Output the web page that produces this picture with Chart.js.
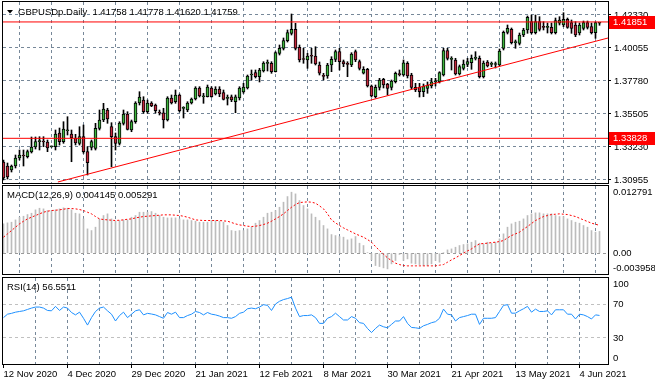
<!DOCTYPE html>
<html>
<head>
<meta charset="utf-8">
<script src="https://cdn.jsdelivr.net/npm/chart.js@4.4.1/dist/chart.umd.min.js"></script>
<style>
  html, body { margin: 0; padding: 0; background: #fff; }
  #wrap { position: relative; width: 655px; height: 386px; overflow: hidden; background: #fff; }
  canvas { position: absolute; left: 0; }
</style>
</head>
<body>
<div id="wrap">
  <canvas id="priceChart" width="655" height="184" style="top:0"></canvas>
  <canvas id="macdChart" width="655" height="91" style="top:184px"></canvas>
  <canvas id="rsiChart" width="655" height="111" style="top:275px"></canvas>
</div>
<script>
// ---- data ----
const dateLabels = ['12 Nov 2020', '4 Dec 2020', '29 Dec 2020', '21 Jan 2021', '12 Feb 2021',
                    '8 Mar 2021', '30 Mar 2021', '21 Apr 2021', '13 May 2021', '4 Jun 2021'];
const priceTicks = [1.30955, 1.33230, 1.35505, 1.37780, 1.40055, 1.42330];
const levels = [1.41851, 1.33828];
const trendLine = [{x: 13.6, y: 1.30817}, {x: 151.125, y: 1.40744}];

const open = [
  1.32195,1.31920,1.31644,1.31920,1.32471,1.32678,1.32561,1.32885,1.33230,1.33595,
  1.33595,1.33574,1.33250,1.33250,1.34195,1.33595,1.34353,1.34126,1.33850,1.33485,
  1.33940,1.32906,1.33209,1.33140,1.34519,1.35091,1.35780,1.34629,1.33940,1.33485,
  1.34863,1.35505,1.34402,1.34974,1.36263,1.36470,1.35663,1.36263,1.36125,1.35594,
  1.35594,1.35091,1.36608,1.36353,1.36815,1.35898,1.35780,1.36263,1.36539,1.37297,
  1.36697,1.36697,1.37297,1.36883,1.37228,1.36973,1.36587,1.36697,1.36353,1.36608,
  1.37021,1.37297,1.38193,1.38352,1.38076,1.38469,1.39000,1.39000,1.38421,1.39689,
  1.40034,1.40558,1.41068,1.41344,1.40103,1.39276,1.39227,1.39503,1.39503,1.38883,
  1.38124,1.38124,1.38883,1.39276,1.39800,1.39110,1.38952,1.38883,1.39800,1.39110,
  1.38311,1.38586,1.37435,1.36697,1.37345,1.37897,1.37573,1.37345,1.37731,1.38262,
  1.38193,1.39000,1.38193,1.37345,1.37345,1.37042,1.37276,1.37435,1.37731,1.37731,
  1.38193,1.39869,1.39276,1.39227,1.38262,1.38655,1.38931,1.39041,1.39345,1.39345,
  1.38076,1.39090,1.38931,1.38917,1.38883,1.40034,1.41137,1.41344,1.40420,1.40379,
  1.40951,1.41296,1.41868,1.41110,1.41868,1.41523,1.41482,1.41482,1.41110,1.41758,
  1.41640,1.42033,1.41799,1.41640,1.41089,1.41413,1.41799,1.41523,1.41110,1.41758
];
const high = [
  1.32333,1.32126,1.31989,1.32678,1.33023,1.33023,1.33023,1.33919,1.33919,1.33940,
  1.33940,1.33712,1.33298,1.34402,1.34539,1.34974,1.35319,1.34402,1.34105,1.34629,
  1.34746,1.33250,1.33712,1.34863,1.35780,1.36242,1.35898,1.34905,1.34195,1.34974,
  1.35780,1.35663,1.35091,1.36353,1.37042,1.36697,1.36470,1.36353,1.36194,1.35780,
  1.35898,1.36697,1.36815,1.37159,1.36883,1.36008,1.36353,1.36608,1.37387,1.37387,
  1.36932,1.37504,1.37387,1.37387,1.37387,1.37159,1.36815,1.36815,1.36815,1.37387,
  1.37621,1.38193,1.38538,1.38538,1.38655,1.39110,1.39227,1.39110,1.39800,1.40262,
  1.40744,1.41296,1.42399,1.41758,1.40262,1.40034,1.39689,1.40034,1.40144,1.39090,
  1.38311,1.39000,1.39455,1.39917,1.40034,1.39227,1.39110,1.39731,1.39917,1.39227,
  1.38766,1.38655,1.37504,1.37504,1.37966,1.37966,1.37621,1.37849,1.38400,1.38538,
  1.39227,1.39110,1.38311,1.37621,1.37621,1.37573,1.37711,1.37966,1.37966,1.38421,
  1.40034,1.40034,1.39455,1.39345,1.38883,1.39227,1.39345,1.39572,1.39800,1.39503,
  1.39159,1.39193,1.39090,1.39090,1.39986,1.41227,1.41640,1.41434,1.40606,1.41089,
  1.41413,1.42261,1.42330,1.42330,1.42213,1.41868,1.41778,1.41778,1.42123,1.42213,
  1.42488,1.42123,1.41985,1.41868,1.41778,1.41916,1.41916,1.41778,1.41847,1.41778
];
const low = [
  1.30954,1.31023,1.31506,1.31782,1.32333,1.31920,1.32471,1.32816,1.33092,1.33023,
  1.33250,1.32906,1.33209,1.33023,1.33367,1.33485,1.34057,1.32216,1.33367,1.33367,
  1.32795,1.31299,1.33023,1.33023,1.34402,1.34974,1.34863,1.31871,1.33023,1.33367,
  1.34746,1.34402,1.34284,1.34863,1.36125,1.35553,1.35553,1.36008,1.35574,1.35436,
  1.34539,1.35022,1.36194,1.36242,1.35642,1.35229,1.35663,1.36194,1.36470,1.36677,
  1.36242,1.36677,1.36656,1.36815,1.36697,1.36470,1.36125,1.36353,1.35594,1.36470,
  1.36932,1.37228,1.37849,1.37987,1.37711,1.38400,1.38469,1.38311,1.38400,1.39572,
  1.39917,1.40468,1.40951,1.39917,1.39090,1.39000,1.38655,1.39000,1.38883,1.38193,
  1.37849,1.37966,1.38421,1.39110,1.38538,1.38766,1.38076,1.38766,1.39110,1.38538,
  1.38262,1.37366,1.36677,1.36608,1.37159,1.37297,1.36815,1.37159,1.37642,1.38124,
  1.38124,1.37987,1.37228,1.37042,1.36677,1.36697,1.36932,1.37297,1.37435,1.37642,
  1.38124,1.39227,1.38538,1.38193,1.38193,1.38538,1.38766,1.38586,1.39227,1.37987,
  1.37987,1.38745,1.38766,1.38676,1.38814,1.39917,1.41020,1.40331,1.40034,1.40262,
  1.40834,1.41068,1.41020,1.41020,1.41227,1.41296,1.41089,1.41020,1.41020,1.41640,
  1.41523,1.41413,1.41068,1.40834,1.40951,1.41296,1.41365,1.41020,1.40724,1.41620
];
const close = [
  1.31092,1.31161,1.31920,1.32471,1.32678,1.32609,1.32906,1.33230,1.33595,1.33609,
  1.33574,1.33161,1.33264,1.34126,1.33595,1.34470,1.34367,1.33850,1.33505,1.33940,
  1.32906,1.32147,1.33595,1.34519,1.35091,1.35849,1.35160,1.33940,1.33485,1.34884,
  1.35505,1.34450,1.34974,1.36263,1.36677,1.35663,1.36263,1.36056,1.35732,1.35574,
  1.35091,1.36608,1.36263,1.36815,1.35732,1.35918,1.36263,1.36539,1.37297,1.36746,
  1.36711,1.37366,1.36697,1.37228,1.36883,1.36518,1.36608,1.36470,1.36697,1.37297,
  1.37366,1.38124,1.38214,1.38076,1.38538,1.39021,1.39021,1.38421,1.39731,1.40034,
  1.40558,1.41110,1.41344,1.40034,1.39227,1.39262,1.39503,1.39483,1.38952,1.38311,
  1.38104,1.38883,1.39276,1.39800,1.39110,1.38952,1.38931,1.39641,1.39227,1.38655,
  1.38586,1.37435,1.36746,1.37345,1.37849,1.37504,1.37276,1.37780,1.38311,1.38214,
  1.39041,1.38124,1.37345,1.37159,1.37042,1.37435,1.37504,1.37731,1.37745,1.38352,
  1.39869,1.39345,1.39296,1.38262,1.38766,1.38952,1.39110,1.39345,1.39365,1.38076,
  1.39021,1.38814,1.38952,1.38931,1.39848,1.41137,1.41413,1.40420,1.40468,1.40951,
  1.41296,1.42171,1.41110,1.41868,1.41344,1.41482,1.41523,1.41110,1.41937,1.41985,
  1.42033,1.41482,1.41413,1.40951,1.41640,1.41799,1.41482,1.41110,1.41799,1.41759
];

const macdMain = [
  0.00558,0.00577,0.00590,0.00634,0.00685,0.00704,0.00736,0.00761,0.00825,0.00856,
  0.00844,0.00812,0.00812,0.00825,0.00844,0.00863,0.00856,0.00825,0.00761,0.00749,
  0.00653,0.00463,0.00431,0.00495,0.00653,0.00717,0.00749,0.00653,0.00609,0.00622,
  0.00634,0.00634,0.00685,0.00717,0.00780,0.00780,0.00780,0.00793,0.00761,0.00717,
  0.00685,0.00672,0.00672,0.00672,0.00653,0.00634,0.00634,0.00622,0.00609,0.00590,
  0.00590,0.00590,0.00622,0.00622,0.00609,0.00590,0.00527,0.00431,0.00419,0.00431,
  0.00431,0.00463,0.00495,0.00571,0.00622,0.00685,0.00761,0.00780,0.00812,0.00875,
  0.00971,0.01078,0.01161,0.01129,0.01002,0.00907,0.00844,0.00749,0.00685,0.00622,
  0.00527,0.00463,0.00355,0.00336,0.00317,0.00305,0.00254,0.00273,0.00317,0.00190,
  0.00146,0.00010,-0.00127,-0.00235,-0.00254,-0.00279,-0.00298,-0.00203,-0.00140,-0.00025,
  -0.00140,-0.00108,-0.00190,-0.00203,-0.00216,-0.00235,-0.00235,-0.00203,-0.00140,-0.00171,
  0.00005,0.00063,0.00082,0.00114,0.00146,0.00165,0.00178,0.00209,0.00241,0.00190,
  0.00178,0.00209,0.00190,0.00209,0.00273,0.00368,0.00495,0.00558,0.00590,0.00609,
  0.00653,0.00717,0.00749,0.00768,0.00768,0.00749,0.00749,0.00749,0.00717,0.00698,
  0.00698,0.00653,0.00622,0.00590,0.00571,0.00527,0.00495,0.00431,0.00400,0.004145
];
const macdSignal = [
  0.00305,0.00368,0.00431,0.00495,0.00558,0.00609,0.00653,0.00685,0.00717,0.00749,
  0.00780,0.00799,0.00812,0.00818,0.00825,0.00837,0.00850,0.00850,0.00844,0.00831,
  0.00812,0.00780,0.00749,0.00698,0.00653,0.00641,0.00634,0.00628,0.00622,0.00628,
  0.00634,0.00647,0.00653,0.00672,0.00685,0.00698,0.00704,0.00711,0.00717,0.00723,
  0.00730,0.00730,0.00730,0.00723,0.00717,0.00704,0.00685,0.00660,0.00634,0.00628,
  0.00622,0.00622,0.00622,0.00622,0.00622,0.00615,0.00609,0.00584,0.00558,0.00539,
  0.00527,0.00514,0.00508,0.00514,0.00527,0.00546,0.00571,0.00609,0.00653,0.00698,
  0.00749,0.00812,0.00875,0.00926,0.00964,0.00971,0.00977,0.00971,0.00952,0.00901,
  0.00844,0.00749,0.00634,0.00577,0.00527,0.00482,0.00444,0.00406,0.00368,0.00336,
  0.00305,0.00260,0.00209,0.00127,0.00051,-0.00019,-0.00089,-0.00140,-0.00190,-0.00216,
  -0.00235,-0.00241,-0.00241,-0.00241,-0.00241,-0.00241,-0.00241,-0.00241,-0.00241,-0.00228,
  -0.00216,-0.00171,-0.00127,-0.00089,-0.00044,0.00000,0.00044,0.00082,0.00133,0.00178,
  0.00184,0.00190,0.00203,0.00209,0.00222,0.00241,0.00292,0.00336,0.00368,0.00400,
  0.00457,0.00508,0.00565,0.00622,0.00660,0.00698,0.00717,0.00736,0.00742,0.00749,
  0.00742,0.00736,0.00717,0.00698,0.00666,0.00634,0.00603,0.00571,0.00552,0.005291
];
const macdLimits = [-0.003958, 0.012791];

const rsi = [
  54, 58, 59, 60.4, 61.2, 62, 63.6, 65.2, 66.4, 66.4,
  65.2, 62.4, 62, 67.2, 62.4, 66.4, 65.2, 60, 57.2, 60.4,
  53.2, 45.2, 54, 61.2, 65.2, 66.4, 62, 58, 50, 56.4,
  60.4, 54, 58, 62, 63.2, 57.2, 59, 58.2, 57.2, 55.2,
  53.2, 60, 58, 60.4, 54, 54, 56.4, 58, 61.2, 60,
  57.2, 60, 58, 57.2, 55.8, 54, 54, 53.2, 55.2, 59,
  60.4, 64.4, 65.2, 64.4, 66.4, 69.2, 68.4, 62.4, 70, 73.2,
  75.2, 76.4, 78, 65.2, 55.2, 56.4, 56.4, 57.2, 54, 47.2,
  47.2, 53.2, 55.2, 59.2, 55.2, 51.2, 51.2, 55.2, 53.2, 48,
  47.2, 41.2, 36.4, 41.2, 45.2, 43.2, 42, 46, 50, 50,
  55.2, 47.2, 42.4, 42, 41.2, 44.4, 46, 48, 49.2, 53.2,
  64, 58, 57.2, 50, 54, 55.2, 56.4, 58, 58, 46,
  53.2, 53.2, 53.2, 54, 61.2, 68.4, 69.2, 59.2, 59.2, 62,
  64.4, 67.2, 60.4, 64, 61.2, 61.2, 62, 57.2, 63.2, 63.2,
  63.2, 58, 58, 52.4, 58, 57.2, 55.2, 52.4, 57.2, 56.5511
];
const rsiLevels = [30, 70];
const rsiLabels = [100, 70, 30, 0];

// ---- look ----
const FONT_FAMILY = "'Liberation Sans', Arial, sans-serif";
const FONT_SIZE = 9.5;
Chart.defaults.font.family = FONT_FAMILY;
Chart.defaults.font.size = FONT_SIZE;
Chart.defaults.color = '#000';
Chart.defaults.animation = false;

const GRID = '#778899';
const BULL = '#3cb43c';
const BEAR = '#c3283c';
const AXIS_W = 47;
const xMin = -0.125, xMax = 151.125;   // 4 px per bar
const bars = close.map((_, i) => i);
const gridBars = bars.filter(i => i % 8 === 0);

function vGridColor(ctx) {
  return ctx.tick && ctx.tick.value === 0 ? 'rgba(0,0,0,0)' : GRID;
}

// keep every pane's plot area exactly where it is, whatever the labels want
function fixWidth(s) {
  s.width = AXIS_W;
  s.paddingTop = 0;
  s.paddingBottom = 0;
}

function timeAxis(withLabels) {
  const axis = {
    type: 'linear', min: xMin, max: xMax, offset: false,
    afterBuildTicks: s => { s.ticks = gridBars.map(v => ({ value: v })); },
    grid: { color: vGridColor, drawTicks: false },
    border: { display: false, dash: [3, 3] },
    ticks: { display: false },
    afterFit: s => { s.height = 0; s.paddingLeft = 0; s.paddingRight = 0; }
  };
  if (withLabels) {
    axis.ticks = {
      display: true, autoSkip: false, maxRotation: 0, align: 'start', padding: 1,
      callback: v => (v % 16 === 0 ? dateLabels[v / 16] : '')
    };
    axis.grid = {
      color: vGridColor, drawTicks: true, tickLength: 4,
      tickColor: ctx => (ctx.tick && ctx.tick.value % 16 === 0 ? '#000' : 'rgba(0,0,0,0)')
    };
    axis.afterFit = s => { s.height = 22; s.paddingLeft = 0; s.paddingRight = 0; };
  }
  return axis;
}

const frame = {
  id: 'frame',
  afterDraw(chart) {
    const { ctx, chartArea: a } = chart;
    ctx.save();
    ctx.strokeStyle = '#000';
    ctx.lineWidth = 1;
    ctx.strokeRect(a.left - 0.5, a.top - 0.5, a.right - a.left + 1, a.bottom - a.top + 1);
    ctx.restore();
  }
};

function title(text, y, arrow) {
  return {
    id: 'title',
    afterDraw(chart) {
      const ctx = chart.ctx;
      ctx.save();
      ctx.fillStyle = '#000';
      ctx.font = FONT_SIZE + 'px ' + FONT_FAMILY;
      ctx.textBaseline = 'middle';
      let x = 7;
      if (arrow) {
        ctx.beginPath();
        ctx.moveTo(7, y - 2); ctx.lineTo(13, y - 2); ctx.lineTo(10, y + 1.5);
        ctx.closePath(); ctx.fill();
        x = 18;
      }
      ctx.fillText(text, x, y);
      ctx.restore();
    }
  };
}

function sideLabels(list) {
  return {
    id: 'sideLabels',
    afterDraw(chart) {
      const { ctx, chartArea: a } = chart;
      const ys = chart.scales.y;
      ctx.save();
      ctx.fillStyle = '#000';
      ctx.font = FONT_SIZE + 'px ' + FONT_FAMILY;
      ctx.textBaseline = 'middle';
      list.forEach(([v, t]) => {
        const py = Math.min(a.bottom - 6, Math.max(a.top + 6, ys.getPixelForValue(v)));
        ctx.fillText(t, a.right + 5, py);
      });
      ctx.restore();
    }
  };
}

const priceTags = {
  id: 'priceTags',
  afterDraw(chart) {
    const { ctx, chartArea: a } = chart;
    const ys = chart.scales.y;
    ctx.save();
    ctx.font = FONT_SIZE + 'px ' + FONT_FAMILY;
    ctx.textBaseline = 'middle';
    levels.forEach(v => {
      const py = Math.round(ys.getPixelForValue(v));
      ctx.fillStyle = '#ff0000';
      ctx.fillRect(a.right + 1, py - 6, AXIS_W, 13);
      ctx.fillStyle = '#fff';
      ctx.fillText(v.toFixed(5), a.right + 5, py + 0.5);
    });
    ctx.restore();
  }
};

// ---- price pane ----
const last = close.length - 1;
const priceTitle = 'GBPUSDp.Daily  ' + [open[last], high[last], low[last], close[last]].map(v => v.toFixed(5)).join(' ');

const levelSets = levels.map(v => ({
  type: 'line',
  data: [{ x: xMin, y: v }, { x: xMax, y: v }],
  borderColor: '#ff0000', borderWidth: 1, pointRadius: 0, order: 0
}));

new Chart(document.getElementById('priceChart'), {
  type: 'bar',
  data: {
    datasets: [
      {
        data: bars.map(i => ({ x: i, y: [open[i], close[i]] })),
        backgroundColor: bars.map(i => (close[i] >= open[i] ? BULL : BEAR)),
        borderColor: '#000', borderWidth: 1, borderSkipped: false,
        barThickness: 3, minBarLength: 1, grouped: false, order: 1
      },
      {
        data: bars.map(i => ({ x: i, y: [low[i], high[i]] })),
        backgroundColor: '#000', barThickness: 1, grouped: false, order: 2
      },
      ...levelSets,
      {
        type: 'line', data: trendLine,
        borderColor: '#ff0000', borderWidth: 1, pointRadius: 0, order: 0
      }
    ]
  },
  options: {
    responsive: false,
    layout: { padding: { left: 3, top: 2, right: 0, bottom: 1 } },
    plugins: { legend: { display: false }, tooltip: { enabled: false } },
    scales: {
      x: timeAxis(false),
      y: {
        position: 'right', min: 1.30748, max: 1.43226,
        afterBuildTicks: s => { s.ticks = priceTicks.map(v => ({ value: v })); },
        ticks: { padding: 3, callback: v => v.toFixed(5) },
        grid: { color: GRID, tickLength: 3, tickColor: '#000' },
        border: { display: false, dash: [3, 3] },
        afterFit: fixWidth
      }
    }
  },
  plugins: [frame, title(priceTitle, 12, true), priceTags]
});

// ---- MACD pane ----
new Chart(document.getElementById('macdChart'), {
  type: 'bar',
  data: {
    datasets: [
      {
        type: 'line',
        data: bars.map(i => ({ x: i, y: macdSignal[i] })),
        borderColor: '#ff0000', borderWidth: 1, borderDash: [2, 2], pointRadius: 0, order: 0
      },
      {
        data: bars.map(i => ({ x: i, y: macdMain[i] })),
        backgroundColor: '#bcbcbc', barThickness: 1, grouped: false, order: 1
      }
    ]
  },
  options: {
    responsive: false,
    layout: { padding: { left: 3, top: 2, right: 0, bottom: 1 } },
    plugins: { legend: { display: false }, tooltip: { enabled: false } },
    scales: {
      x: timeAxis(false),
      y: {
        position: 'right', min: macdLimits[0], max: macdLimits[1],
        afterBuildTicks: s => { s.ticks = [{ value: 0 }]; },
        ticks: { display: false },
        grid: { color: '#9a9a9a', drawTicks: false },
        border: { display: false, dash: [3, 3] },
        afterFit: fixWidth
      }
    }
  },
  plugins: [frame,
    title('MACD(12,26,9) ' + macdMain[last].toFixed(6) + ' ' + macdSignal[last].toFixed(6), 11, false),
    sideLabels([[macdLimits[1], macdLimits[1].toFixed(6)], [0, '0.00'], [macdLimits[0], macdLimits[0].toFixed(6)]])]
});

// ---- RSI pane ----
new Chart(document.getElementById('rsiChart'), {
  type: 'line',
  data: {
    datasets: [{
      data: bars.map(i => ({ x: i, y: rsi[i] })),
      borderColor: '#1e90ff', borderWidth: 1, pointRadius: 0, tension: 0
    }]
  },
  options: {
    responsive: false,
    layout: { padding: { left: 3, top: 3, right: 0, bottom: 0 } },
    plugins: { legend: { display: false }, tooltip: { enabled: false } },
    scales: {
      x: timeAxis(true),
      y: {
        position: 'right', min: -0.59, max: 100.59,
        afterBuildTicks: s => { s.ticks = rsiLevels.map(v => ({ value: v })); },
        ticks: { display: false },
        grid: { color: '#c0c0c0', drawTicks: false },
        border: { display: false, dash: [3, 3] },
        afterFit: fixWidth
      }
    }
  },
  plugins: [frame,
    title('RSI(14) ' + rsi[last].toFixed(4), 12, false),
    sideLabels(rsiLabels.map(v => [v, String(v)]))]
});
</script>
</body>
</html>
